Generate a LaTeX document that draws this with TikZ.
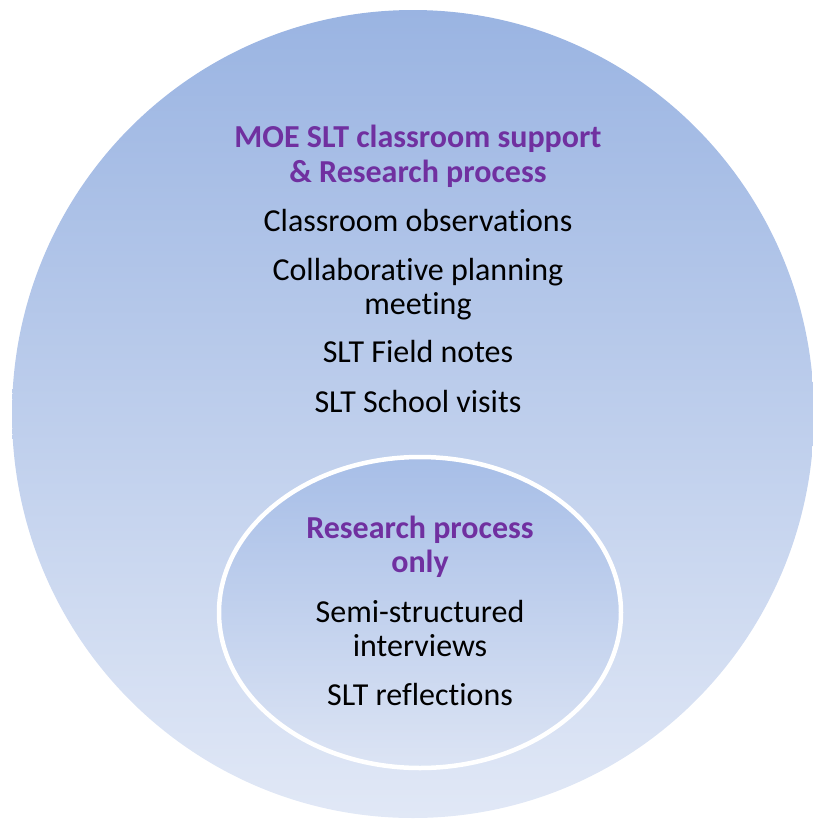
\documentclass[tikz,border=0pt]{standalone}
\usepackage{fontspec}
\setmainfont{Carlito}[Ligatures={NoCommon}]
\usetikzlibrary{shapes.geometric}
\definecolor{outtop}{HTML}{9AB4E2}
\definecolor{outbot}{HTML}{E1E8F6}
\definecolor{intop}{HTML}{A7BEE7}
\definecolor{inbot}{HTML}{DCE4F4}
\definecolor{ttl}{HTML}{7030A0}
\tikzset{
  txt/.style={anchor=base, inner sep=0pt, font=\fontsize{32}{34}\selectfont, text=black},
  head/.style={txt, font=\fontsize{32}{34}\selectfont\bfseries, text=ttl},
}
\begin{document}
\begin{tikzpicture}[x=1pt,y=-1pt]
\useasboundingbox (0,0) rectangle (813,820);
\node[ellipse, minimum width=802pt, minimum height=808pt, inner sep=0pt, top color=outtop, bottom color=outbot, draw=none] (outer) at (413,414) {};
\node[ellipse, minimum width=402pt, minimum height=311pt, inner sep=0pt, top color=intop, bottom color=inbot, draw=white, line width=4.5pt] (inner) at (420,612.5) {};
\node[head] (h1) at (418,147) {MOE SLT classroom support};
\node[head] (h2) at (418,182) {\& Research process};
\node[txt] (t1) at (418,231) {Classroom observations};
\node[txt] (t2) at (418,280) {Collaborative planning};
\node[txt] (t3) at (418,314) {meeting};
\node[txt] (t4) at (418,362) {SLT Field notes};
\node[txt] (t5) at (418,412) {SLT School visits};
\node[head] (r1) at (420,538) {Research process};
\node[head] (r2) at (420,572) {only};
\node[txt] (r3) at (420,622) {Semi-structured};
\node[txt] (r4) at (420,656) {interviews};
\node[txt] (r5) at (420,705) {SLT reflections};
\end{tikzpicture}
\end{document}
